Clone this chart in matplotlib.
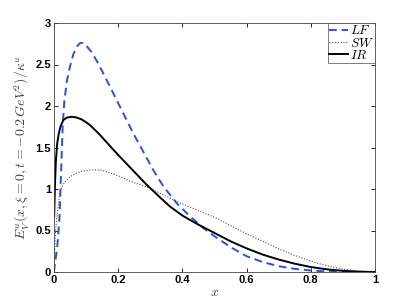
import matplotlib
matplotlib.use("Agg")
import matplotlib.pyplot as plt

plt.rcParams['mathtext.fontset'] = 'cm'

# Light-front (LF) model
lf_x = [0.0, 0.003, 0.01, 0.017, 0.022, 0.027, 0.032, 0.04, 0.05, 0.06, 0.07, 0.08, 0.09, 0.10,
        0.117, 0.135, 0.154, 0.185, 0.216, 0.247, 0.278, 0.309, 0.341, 0.382, 0.424, 0.465,
        0.50, 0.55, 0.60, 0.65, 0.70, 0.75, 0.80, 0.85, 0.90, 0.95, 1.0]
lf_y = [0.0, 0.10, 0.30, 0.65, 1.20, 1.75, 2.05, 2.30, 2.48, 2.62, 2.71, 2.755, 2.76, 2.73,
        2.65, 2.53, 2.39, 2.15, 1.91, 1.67, 1.45, 1.23, 1.03, 0.83, 0.67, 0.53,
        0.43, 0.30, 0.19, 0.12, 0.07, 0.038, 0.018, 0.007, 0.002, 0.0005, 0.0]

# Soft-wall (SW) model
sw_x = [0.0, 0.002, 0.005, 0.01, 0.019, 0.03, 0.04, 0.05, 0.07, 0.09, 0.11, 0.13, 0.15, 0.17,
        0.20, 0.24, 0.30, 0.34, 0.372, 0.40, 0.45, 0.50, 0.55, 0.60, 0.65, 0.70, 0.75, 0.80,
        0.85, 0.90, 0.95, 1.0]
sw_y = [0.0, 0.23, 0.50, 0.71, 0.97, 1.06, 1.11, 1.15, 1.19, 1.215, 1.228, 1.23, 1.225, 1.20,
        1.16, 1.09, 1.01, 0.93, 0.87, 0.82, 0.74, 0.66, 0.56, 0.46, 0.37, 0.28, 0.20, 0.13,
        0.075, 0.035, 0.01, 0.0]

# Improved (IR) model
ir_x = [0.0005, 0.003, 0.006, 0.01, 0.015, 0.02, 0.029, 0.04, 0.055, 0.07, 0.085, 0.10, 0.112,
        0.14, 0.174, 0.20, 0.237, 0.289, 0.33, 0.361, 0.40, 0.45, 0.50, 0.55, 0.60, 0.65,
        0.70, 0.75, 0.80, 0.85, 0.90, 0.95, 1.0]
ir_y = [0.67, 1.05, 1.35, 1.55, 1.67, 1.75, 1.83, 1.86, 1.87, 1.862, 1.84, 1.805, 1.77,
        1.665, 1.52, 1.41, 1.26, 1.05, 0.90, 0.79, 0.68, 0.57, 0.47, 0.37, 0.285, 0.21,
        0.15, 0.10, 0.06, 0.032, 0.014, 0.004, 0.0]

fig = plt.figure(figsize=(4.15, 3.07), dpi=100)
ax = fig.add_axes([54/415, 1 - 272/307, (375-54)/415, (272-23)/307])

ax.plot(lf_x, lf_y, color='#2850e8', linestyle=(0, (4, 2.5)), linewidth=1.4, label='$LF$')
ax.plot(sw_x, sw_y, color='#555555', linestyle=(0, (1, 1.5)), linewidth=0.8, label='$SW$')
ax.plot(ir_x, ir_y, color='black', linestyle='-', linewidth=1.4, label='$IR$')

ax.set_xlim(0, 1)
ax.set_ylim(0, 3)
ax.set_xticks([0, 0.2, 0.4, 0.6, 0.8, 1])
ax.set_xticklabels(['0', '0.2', '0.4', '0.6', '0.8', '1'])
ax.set_yticks([0, 0.5, 1, 1.5, 2, 2.5, 3])
ax.set_yticklabels(['0', '0.5', '1', '1.5', '2', '2.5', '3'])
ax.tick_params(direction='in', top=True, right=True, length=3, width=0.6,
               labelsize=8, pad=2, colors='black')
for lab in ax.get_xticklabels() + ax.get_yticklabels():
    lab.set_fontfamily('Liberation Sans')
    lab.set_fontweight('bold')
for sp in ax.spines.values():
    sp.set_linewidth(0.6)
    sp.set_color('#444444')

ax.set_xlabel('$x$', fontsize=10, color='#444444', labelpad=0)
ax.set_ylabel(r'$E_V^u(x,\xi=0,t=-0.2\,GeV^2)/\kappa^u$', fontsize=10, color='#444444', labelpad=3)

leg = ax.legend(loc='upper right', fontsize=9.5, frameon=True, fancybox=False,
                borderpad=0.1, labelspacing=-0.05, handlelength=1.4, handletextpad=0.15,
                borderaxespad=0.0)
leg.get_frame().set_edgecolor('#444444')
leg.get_frame().set_linewidth(0.6)

fig.savefig('out.png', dpi=100)
